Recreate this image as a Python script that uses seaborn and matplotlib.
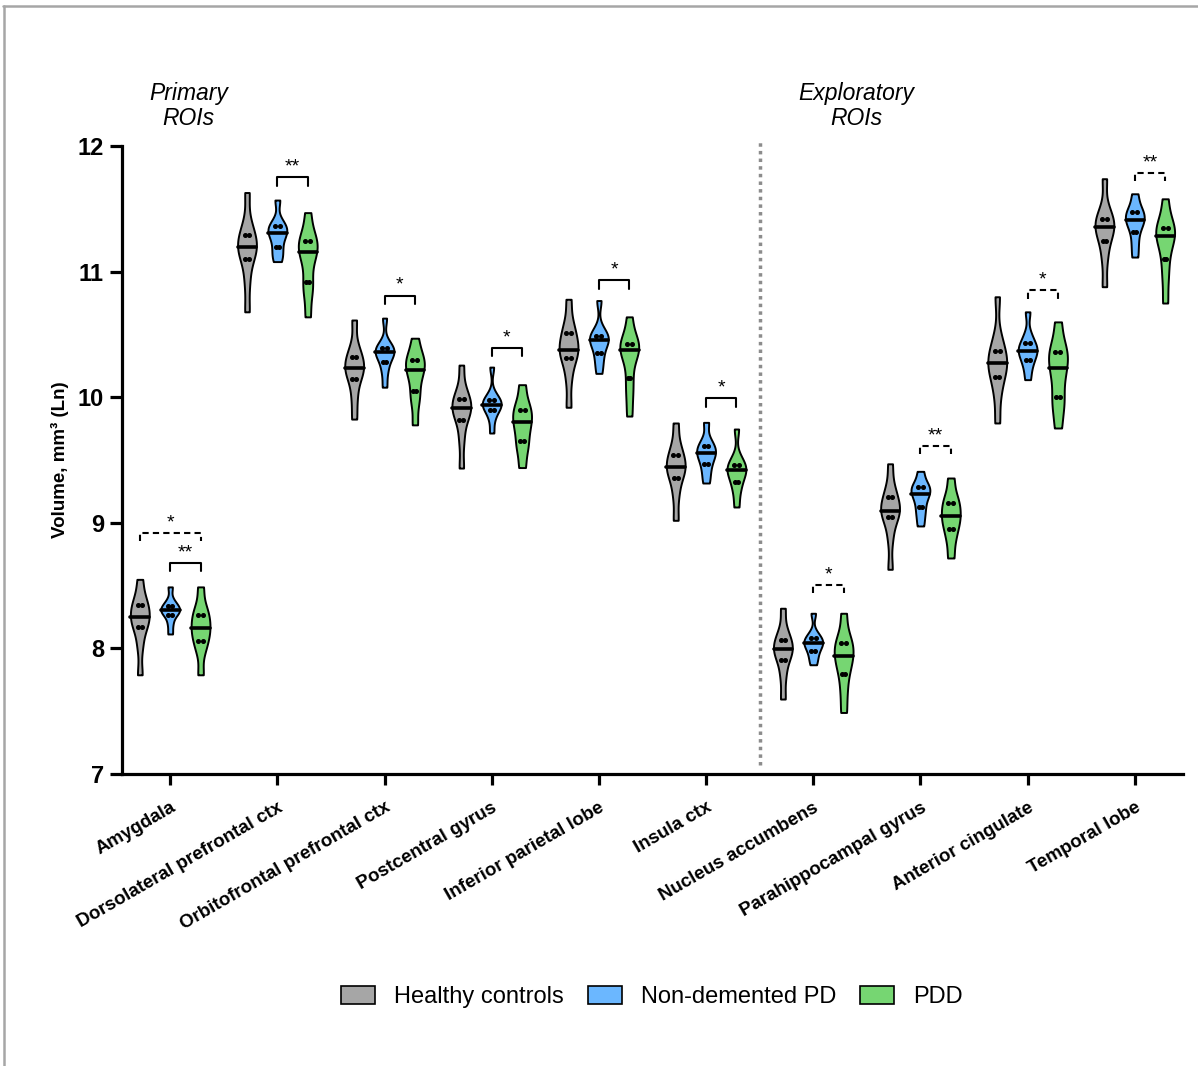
import numpy as np
import pandas as pd
import matplotlib
matplotlib.use("Agg")
import matplotlib.pyplot as plt
from matplotlib.lines import Line2D
from matplotlib.patches import Patch
import seaborn as sns

# Regions of interest (first six primary, last four exploratory)
regions = [
    "Amygdala", "Dorsolateral prefrontal ctx", "Orbitofrontal prefrontal ctx",
    "Postcentral gyrus", "Inferior parietal lobe", "Insula ctx",
    "Nucleus accumbens", "Parahippocampal gyrus", "Anterior cingulate", "Temporal lobe",
]
groups = ["Healthy controls", "Non-demented PD", "PDD"]
group_colors = ["#A6A6A6", "#6BB7FF", "#76D672"]

# Log-transformed regional volumes (ln mm^3), one list per region
hc_volumes = [
    [7.79, 8.02, 8.17, 8.20, 8.25, 8.30, 8.345, 8.40, 8.55],
    [10.68, 10.92, 11.10, 11.16, 11.196, 11.24, 11.29, 11.38, 11.63],
    [9.826, 10.00, 10.145, 10.20, 10.232, 10.28, 10.32, 10.40, 10.615],
    [9.436, 9.66, 9.82, 9.88, 9.914, 9.95, 9.986, 10.06, 10.256],
    [9.92, 10.15, 10.31, 10.35, 10.376, 10.44, 10.51, 10.58, 10.78],
    [9.02, 9.22, 9.357, 9.41, 9.444, 9.49, 9.54, 9.62, 9.795],
    [7.597, 7.78, 7.91, 7.96, 7.995, 8.03, 8.07, 8.14, 8.32],
    [8.63, 8.88, 9.046, 9.07, 9.094, 9.15, 9.205, 9.28, 9.47],
    [9.795, 10.02, 10.16, 10.22, 10.27, 10.32, 10.37, 10.48, 10.80],
    [10.88, 11.10, 11.24, 11.31, 11.355, 11.39, 11.42, 11.50, 11.74],
]
pd_volumes = [
    [8.115, 8.20, 8.27, 8.29, 8.305, 8.32, 8.34, 8.38, 8.49],
    [11.08, 11.14, 11.20, 11.27, 11.31, 11.33, 11.36, 11.40, 11.57],
    [10.08, 10.20, 10.28, 10.33, 10.36, 10.375, 10.39, 10.43, 10.63],
    [9.715, 9.83, 9.90, 9.925, 9.94, 9.96, 9.98, 10.02, 10.24],
    [10.19, 10.28, 10.35, 10.42, 10.455, 10.47, 10.49, 10.54, 10.77],
    [9.317, 9.40, 9.47, 9.52, 9.555, 9.58, 9.61, 9.66, 9.80],
    [7.87, 7.93, 7.98, 8.02, 8.04, 8.06, 8.08, 8.12, 8.28],
    [8.975, 9.06, 9.125, 9.19, 9.23, 9.26, 9.285, 9.32, 9.41],
    [10.14, 10.24, 10.30, 10.35, 10.37, 10.40, 10.43, 10.50, 10.68],
    [11.116, 11.22, 11.315, 11.38, 11.41, 11.44, 11.475, 11.52, 11.62],
]
pdd_volumes = [
    [7.79, 7.98, 8.06, 8.12, 8.16, 8.22, 8.27, 8.33, 8.49],
    [10.64, 10.84, 10.92, 11.08, 11.16, 11.20, 11.24, 11.30, 11.47],
    [9.78, 9.96, 10.05, 10.16, 10.22, 10.26, 10.30, 10.35, 10.47],
    [9.44, 9.58, 9.65, 9.74, 9.80, 9.85, 9.90, 9.96, 10.10],
    [9.85, 10.02, 10.15, 10.30, 10.376, 10.40, 10.42, 10.48, 10.64],
    [9.126, 9.25, 9.325, 9.38, 9.42, 9.44, 9.46, 9.52, 9.747],
    [7.49, 7.66, 7.80, 7.88, 7.94, 7.99, 8.04, 8.10, 8.28],
    [8.72, 8.86, 8.95, 9.01, 9.054, 9.11, 9.16, 9.22, 9.357],
    [9.755, 9.92, 10.00, 10.14, 10.23, 10.30, 10.36, 10.42, 10.60],
    [10.75, 10.95, 11.10, 11.22, 11.28, 11.32, 11.35, 11.42, 11.58],
]

# Pairwise comparisons: region, group a, group b, bracket level, label, dashed
comp_region = [0, 0, 1, 2, 3, 4, 5, 6, 7, 8, 9]
comp_a = [0, 1, 1, 1, 1, 1, 1, 1, 1, 1, 1]
comp_b = [2, 2, 2, 2, 2, 2, 2, 2, 2, 2, 2]
comp_level = [8.92, 8.68, 11.75, 10.81, 10.39, 10.93, 9.99, 8.505, 9.61, 10.85, 11.785]
comp_label = ["*", "**", "**", "*", "*", "*", "*", "*", "**", "*", "**"]
comp_dashed = [True, False, False, False, False, False, False, True, True, True, True]

rows = []
for g, vols in zip(groups, [hc_volumes, pd_volumes, pdd_volumes]):
    for r, vals in zip(regions, vols):
        for v in vals:
            rows.append((r, g, v))
df = pd.DataFrame(rows, columns=["region", "group", "volume"])

sns.set_theme(style="ticks")
plt.rcParams["font.family"] = ["Liberation Sans", "DejaVu Sans"]
plt.rcParams["text.color"] = "black"
plt.rcParams["axes.labelcolor"] = "black"
plt.rcParams["xtick.color"] = "black"
plt.rcParams["ytick.color"] = "black"

fig = plt.figure(figsize=(11.98, 10.66), dpi=100)
ax = fig.add_axes([0.1018, 0.2739, 0.8857, 0.5891])

width = 0.85
n_before = len(ax.lines)
sns.violinplot(
    data=df, x="region", y="volume", hue="group",
    order=regions, hue_order=groups, palette=group_colors,
    inner="quart", cut=0, density_norm="width", width=width, gap=0.38,
    linewidth=1.4, linecolor="black", bw_adjust=0.6, saturation=1,
    legend=False, ax=ax,
)

# Median as a thick solid bar, quartiles as pairs of dots
inner_lines = ax.lines[n_before:]
for i, ln in enumerate(inner_lines):
    xs = np.asarray(ln.get_xdata(), dtype=float)
    ys = np.asarray(ln.get_ydata(), dtype=float)
    if i % 3 == 1:
        ln.set_linestyle("-")
        ln.set_linewidth(2.6)
        ln.set_color("black")
    else:
        ln.set_visible(False)
        span = xs[-1] - xs[0]
        if span < 0.07:
            px = [xs[0] + span / 2]
        else:
            px = [xs[0] + span * 0.36, xs[0] + span * 0.64]
        ax.plot(px, [ys[0]] * len(px), "o", color="black", ms=2.6, mec="black")

# Significance brackets
offset = width / 3
tick_h = 0.065
for r, a, b, lvl, lab, dsh in zip(comp_region, comp_a, comp_b, comp_level, comp_label, comp_dashed):
    x1 = r + (a - 1) * offset
    x2 = r + (b - 1) * offset
    ls = (0, (3, 2)) if dsh else "-"
    ax.plot([x1, x1, x2, x2], [lvl - tick_h, lvl, lvl, lvl - tick_h],
            color="black", lw=1.5, ls=ls, clip_on=False)
    ax.text((x1 + x2) / 2, lvl + 0.015, lab, ha="center", va="bottom",
            fontsize=14, clip_on=False)

# Separator between primary and exploratory regions
ax.plot([5.5, 5.5], [7.07, 12.05], color="#8C8C8C", lw=2.5, ls=(0, (1, 1.2)), clip_on=False)

ax.text(0.17, 12.32, "Primary\nROIs", ha="center", va="center", fontsize=16.5,
        style="italic", linespacing=1.1, clip_on=False)
ax.text(6.4, 12.32, "Exploratory\nROIs", ha="center", va="center", fontsize=16.5,
        style="italic", linespacing=1.1, clip_on=False)

ax.set_xlim(-0.45, 9.45)
ax.set_ylim(7, 12)
ax.set_yticks([7, 8, 9, 10, 11, 12])
ax.set_xticks(range(len(regions)))
ax.set_xticklabels(regions, rotation=30, ha="right", rotation_mode="anchor",
                   fontweight="bold", fontsize=13.5)
for lab in ax.get_yticklabels():
    lab.set_fontweight("bold")
    lab.set_fontsize(17)
ax.set_xlabel("")
ax.set_ylabel("Volume, mm³ (Ln)", fontsize=13.5, fontweight="bold", labelpad=6)

sns.despine(ax=ax)
for side in ["left", "bottom"]:
    ax.spines[side].set_linewidth(2.3)
    ax.spines[side].set_color("black")
ax.tick_params(axis="y", length=9, width=2.3, pad=4, color="black")
ax.tick_params(axis="x", length=8, width=2.3, pad=10, color="black")

handles = [Patch(facecolor=c, edgecolor="black", linewidth=1.2) for c in group_colors]
fig.legend(handles, groups, loc="center", bbox_to_anchor=(0.544, 0.0647), ncol=3,
           frameon=False, fontsize=17, handlelength=1.45, handleheight=0.8,
           handletextpad=0.8, columnspacing=1.0)

# Outer frame lines (top and left)
fig.add_artist(Line2D([3 / 1198, 1], [1 - 6 / 1066, 1 - 6 / 1066],
                      transform=fig.transFigure, color="#A6A6A6", lw=1.8))
fig.add_artist(Line2D([4 / 1198, 4 / 1198], [0, 1 - 6 / 1066],
                      transform=fig.transFigure, color="#A6A6A6", lw=1.8))

fig.savefig("out.png", dpi=100)
